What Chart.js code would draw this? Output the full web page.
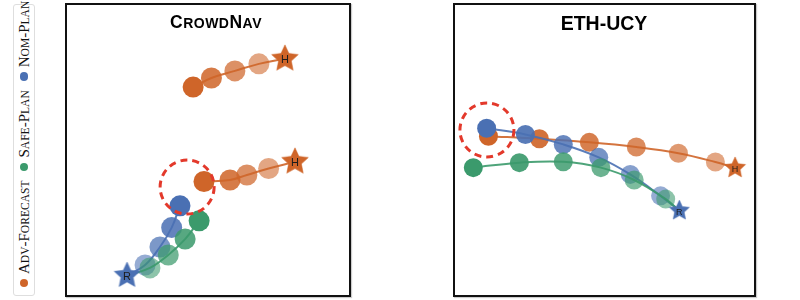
<!DOCTYPE html>
<html><head><meta charset="utf-8">
<script src="https://cdn.jsdelivr.net/npm/chart.js@4.4.1/dist/chart.umd.min.js"></script>
<style>
html,body{margin:0;padding:0;background:#fff;}
body{width:800px;height:300px;position:relative;overflow:hidden;}
.panel{position:absolute;top:3px;height:294px;box-shadow:1px 1px 1px rgba(0,0,0,0.2);}
.panel canvas{display:block;}
#p1{left:65px;width:286px;}
#p2{left:453px;width:303px;}
.title{position:absolute;font-family:"Liberation Sans",Arial,Helvetica,sans-serif;font-weight:bold;color:#000;transform:translateX(-50%);white-space:nowrap;}
#t1{left:216px;top:12px;font-size:17.5px;line-height:20px;letter-spacing:0.5px;}
#t2{left:604px;top:11.5px;font-size:19.5px;line-height:22px;}
.sc{text-transform:uppercase;font-size:0.8em;}
#legendBox{position:absolute;left:12.5px;top:4px;width:22px;height:292px;border:1px solid #dedede;border-radius:3px;box-sizing:border-box;}
#legend{position:absolute;left:12.5px;top:296px;width:292px;height:22px;transform-origin:0 0;transform:rotate(-90deg);display:flex;align-items:center;padding-left:8.5px;box-sizing:border-box;font-family:"Liberation Serif","Times New Roman",serif;font-size:15px;color:#111;white-space:nowrap;}
#legend .sc{font-size:0.77em;}
.item{display:flex;align-items:center;margin-right:9.5px;}
.dot{width:8.5px;height:8.5px;border-radius:50%;margin-right:5px;flex:none;}
</style>
</head><body>
<div id="legendBox"></div>
<div id="legend"></div>
<div class="panel" id="p1"><canvas id="c1" width="286" height="294"></canvas></div>
<div class="panel" id="p2"><canvas id="c2" width="303" height="294"></canvas></div>
<div class="title" id="t1"></div>
<div class="title" id="t2"></div>
<script>
// ---------- data (panel units 0..10, circles listed from the star outward) ----------
const panelTitles = ['CrowdNav', 'ETH-UCY'];
const legendLabels = ['Adv-Forecast', 'Safe-Plan', 'Nom-Plan'];

// CrowdNav
const cnHuman1Star = [7.69, 8.10];
const cnHuman1X = [6.78, 5.94, 5.12, 4.48];
const cnHuman1Y = [7.93, 7.69, 7.45, 7.14];
const cnHuman2Star = [8.04, 4.60];
const cnHuman2X = [7.12, 6.36, 5.77, 4.86];
const cnHuman2Y = [4.37, 4.15, 3.98, 3.93];
const cnRobot = [2.17, 0.73];
const cnNomX = [2.80, 3.32, 3.73, 4.02];
const cnNomY = [1.09, 1.70, 2.36, 3.10];
const cnSafeX = [2.97, 3.61, 4.20, 4.69];
const cnSafeY = [0.99, 1.43, 1.97, 2.59];
const cnFocus = [4.27, 3.74];

// ETH-UCY
const ethHumanStar = [9.31, 4.39];
const ethAdvX = [8.66, 7.44, 6.05, 4.50, 2.85, 1.17];
const ethAdvY = [4.59, 4.89, 5.10, 5.26, 5.38, 5.47];
const ethRobot = [7.47, 2.94];
const ethNomX = [6.85, 5.85, 4.81, 3.64, 2.39, 1.11];
const ethNomY = [3.44, 4.17, 4.75, 5.19, 5.53, 5.74];
const ethSafeX = [7.02, 5.98, 4.88, 3.64, 2.19, 0.67];
const ethSafeY = [3.33, 3.98, 4.40, 4.60, 4.57, 4.40];
const ethFocus = [1.12, 5.68];

// ---------- styles ----------
const ORANGE = '#cf6529', GREEN = '#3b9a6c', BLUE = '#4a70b3', RING = '#e3392b';
const legendColors = [ORANGE, GREEN, BLUE];

function rgba(hex, a) {
  const n = parseInt(hex.slice(1), 16);
  return `rgba(${(n >> 16) & 255},${(n >> 8) & 255},${n & 255},${a})`;
}
function smallCaps(str) {
  return str.replace(/[a-z]+/g, m => `<span class="sc">${m}</span>`);
}
function starImage(color, R) {
  const c = document.createElement('canvas');
  const s = Math.ceil(2 * R + 4);
  c.width = s; c.height = s;
  const g = c.getContext('2d');
  g.translate(s / 2, s / 2);
  g.beginPath();
  for (let k = 0; k < 10; k++) {
    const rr = k % 2 ? R * 0.48 : R;
    const ang = -Math.PI / 2 + k * Math.PI / 5;
    g.lineTo(rr * Math.cos(ang), rr * Math.sin(ang));
  }
  g.closePath();
  g.fillStyle = color; g.fill();
  g.lineWidth = 1; g.strokeStyle = rgba(color, 0.5); g.stroke();
  return c;
}
function traj(xs, ys, start, color, r) {
  const pts = xs.map((x, i) => ({ x, y: ys[i] }));
  const n = pts.length;
  const alphas = pts.map((_, i) => 0.58 + 0.42 * i / (n - 1));
  return [
    { data: [{ x: start[0], y: start[1] }, ...pts], showLine: true, pointRadius: 0,
      borderColor: rgba(color, 0.9), borderWidth: 2, tension: 0.4, fill: false },
    { data: pts, showLine: false, pointRadius: r, pointHoverRadius: r, borderWidth: 0,
      backgroundColor: alphas.map(a => rgba(color, a)) }
  ];
}
function star(p, color, R, text, size) {
  return { data: [{ x: p[0], y: p[1] }], showLine: false, pointStyle: starImage(color, R),
    pointRadius: R, starText: text, starFont: size };
}

const decor = {
  id: 'decor',
  afterDatasetsDraw(chart, args, opts) {
    const ctx = chart.ctx;
    chart.data.datasets.forEach((ds, i) => {
      if (!ds.starText) return;
      chart.getDatasetMeta(i).data.forEach(el => {
        ctx.save();
        ctx.font = `${ds.starFont}px "Liberation Sans", Arial, sans-serif`;
        ctx.fillStyle = '#1c1c1c'; ctx.textAlign = 'center'; ctx.textBaseline = 'middle';
        ctx.fillText(ds.starText, el.x, el.y + 1.5);
        ctx.restore();
      });
    });
    const cx = chart.scales.x.getPixelForValue(opts.fx);
    const cy = chart.scales.y.getPixelForValue(opts.fy);
    ctx.save();
    ctx.beginPath();
    ctx.arc(cx, cy, opts.radius, 0, Math.PI * 2);
    ctx.setLineDash([7, 5]);
    ctx.lineWidth = 3; ctx.strokeStyle = RING; ctx.stroke();
    ctx.restore();
  },
  afterDraw(chart) {
    const ctx = chart.ctx;
    ctx.save();
    ctx.lineWidth = 2; ctx.strokeStyle = '#111';
    ctx.strokeRect(1, 1, chart.width - 2, chart.height - 2);
    ctx.restore();
  }
};

function makeChart(id, datasets, focus, ringR) {
  const N = datasets.length;
  datasets.forEach((d, i) => { d.order = N - i; d.clip = false; });
  return new Chart(document.getElementById(id), {
    type: 'scatter',
    data: { datasets },
    options: {
      responsive: false, animation: false, events: [],
      layout: { padding: 0, autoPadding: false },
      plugins: { legend: { display: false }, tooltip: { enabled: false }, title: { display: false },
        decor: { fx: focus[0], fy: focus[1], radius: ringR } },
      scales: {
        x: { type: 'linear', min: 0, max: 10, display: false },
        y: { type: 'linear', min: 0, max: 10, display: false }
      }
    },
    plugins: [decor]
  });
}

// ---------- HTML text ----------
document.getElementById('t1').innerHTML = smallCaps(panelTitles[0]);
document.getElementById('t2').textContent = panelTitles[1];
document.getElementById('legend').innerHTML = legendLabels.map((l, i) =>
  `<div class="item"><span class="dot" style="background:${legendColors[i]}"></span><span>${smallCaps(l)}</span></div>`).join('');

// ---------- charts ----------
makeChart('c1', [
  ...traj(cnHuman1X, cnHuman1Y, cnHuman1Star, ORANGE, 10.5),
  ...traj(cnHuman2X, cnHuman2Y, cnHuman2Star, ORANGE, 10.5),
  ...traj(cnNomX, cnNomY, cnRobot, BLUE, 10.5),
  ...traj(cnSafeX, cnSafeY, cnRobot, GREEN, 10.5),
  star(cnHuman1Star, ORANGE, 14, 'H', 11),
  star(cnHuman2Star, ORANGE, 14, 'H', 11),
  star(cnRobot, BLUE, 13.5, 'R', 11)
], cnFocus, 27);

makeChart('c2', [
  ...traj(ethAdvX, ethAdvY, ethHumanStar, ORANGE, 9.5),
  ...traj(ethNomX, ethNomY, ethRobot, BLUE, 9.5),
  ...traj(ethSafeX, ethSafeY, ethRobot, GREEN, 9.5),
  star(ethHumanStar, ORANGE, 11, 'H', 9),
  star(ethRobot, BLUE, 10.5, 'R', 9)
], ethFocus, 27);
</script>
</body></html>
